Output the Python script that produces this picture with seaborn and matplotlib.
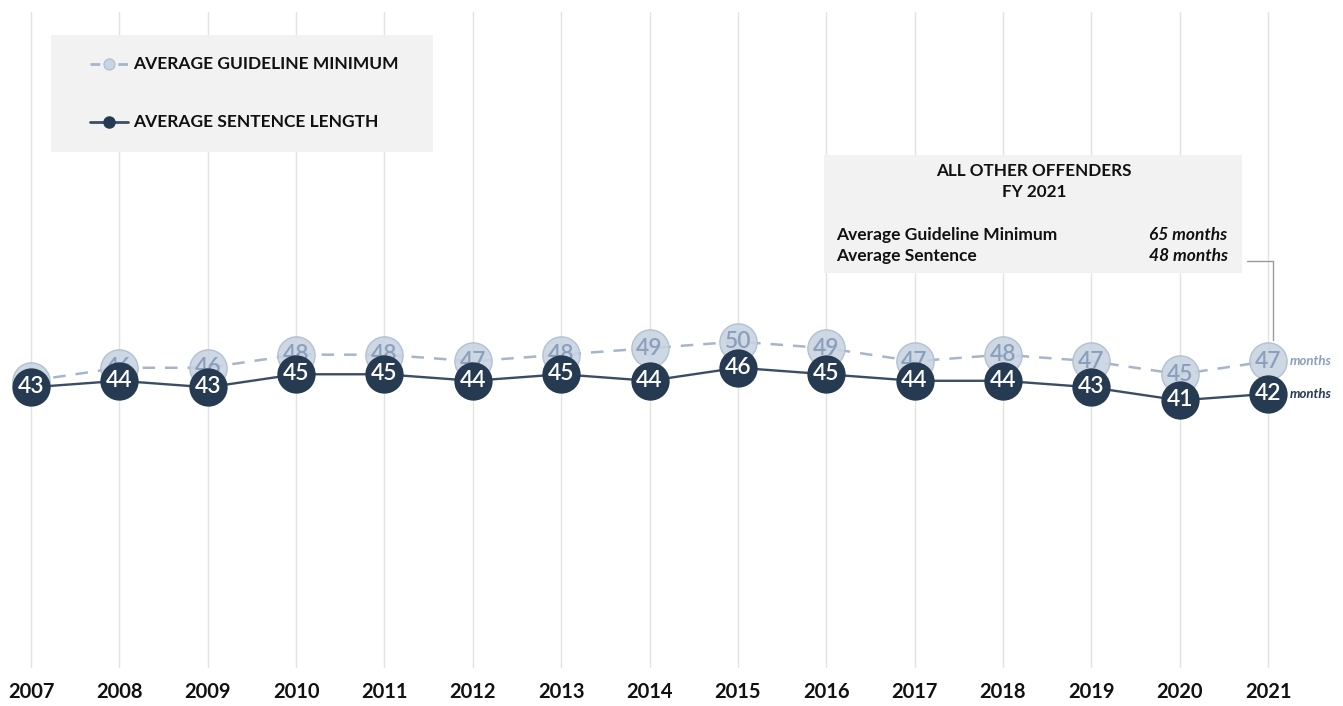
import matplotlib
matplotlib.use("Agg")
import matplotlib.pyplot as plt
from matplotlib.patches import Rectangle
from matplotlib.lines import Line2D
import seaborn as sns
import pandas as pd

years = [2007, 2008, 2009, 2010, 2011, 2012, 2013, 2014, 2015, 2016, 2017, 2018, 2019, 2020, 2021]
guideline_min = [44, 46, 46, 48, 48, 47, 48, 49, 50, 49, 47, 48, 47, 45, 47]
sentence_len = [43, 44, 43, 45, 45, 44, 45, 44, 46, 45, 44, 44, 43, 41, 42]
legend_labels = ["AVERAGE GUIDELINE MINIMUM", "AVERAGE SENTENCE LENGTH"]
box_title = ["ALL OTHER OFFENDERS", "FY 2021"]
box_rows = ["Average Guideline Minimum", "Average Sentence"]
box_vals = ["65 months", "48 months"]

df = pd.DataFrame({"year": years, "guide": guideline_min, "sent": sentence_len})

sns.set_theme(style="white")
plt.rcParams["font.family"] = ["Lato", "DejaVu Sans"]

DARK = "#263a52"
DARK_LINE = "#3b4d64"
LIGHT_FILL = "#c8d4e2"
LIGHT_EDGE = "#aebdd1"
LIGHT_TEXT = "#8b9fbb"
DASH = "#a7b5cb"
INK = "#111111"

W, H = 1343, 706
fig = plt.figure(figsize=(W / 100, H / 100), dpi=100)
ax = fig.add_axes([0, 1 - 668 / H, 1, (668 - 12) / H])

ax.set_xlim(2007 - 31 / 88.36, 2021 + 75 / 88.36)
ax.set_ylim(0, 100.5)

for y in years:
    ax.axvline(y, color="#e2e2e2", lw=1, zorder=0)

sns.lineplot(data=df, x="year", y="guide", ax=ax, color=DASH, lw=1.8, zorder=2)
ax.lines[-1].set_dashes([5, 4])
sns.scatterplot(data=df, x="year", y="guide", ax=ax, s=720, color=LIGHT_FILL,
                edgecolor=LIGHT_EDGE, linewidth=1, alpha=0.9, zorder=3)
for x, v in zip(years, guideline_min):
    ax.text(x, v, str(v), ha="center", va="center", fontsize=16.5,
            color=LIGHT_TEXT, fontweight="semibold", zorder=4)

sns.lineplot(data=df, x="year", y="sent", ax=ax, color=DARK_LINE, lw=1.7, zorder=5)
sns.scatterplot(data=df, x="year", y="sent", ax=ax, s=760, color=DARK,
                edgecolor=DARK, linewidth=0, zorder=6)
for x, v in zip(years, sentence_len):
    ax.text(x, v + 0.1, str(v), ha="center", va="center", fontsize=16.5,
            color="white", fontweight="semibold", zorder=7)

ax.annotate("months", (years[-1], guideline_min[-1]), xytext=(16, 0),
            textcoords="offset points", ha="left", va="center", fontsize=9.5,
            style="italic", fontweight="bold", color=LIGHT_TEXT)
ax.annotate("months", (years[-1], sentence_len[-1]), xytext=(16, 0),
            textcoords="offset points", ha="left", va="center", fontsize=9.5,
            style="italic", fontweight="bold", color=DARK)

ax.set_xticks(years)
ax.set_xticklabels([str(y) for y in years], fontsize=14.5, fontweight="bold", color=INK)
ax.tick_params(axis="x", length=0, pad=10)
ax.set_yticks([])
ax.set_xlabel("")
ax.set_ylabel("")
for s in ax.spines.values():
    s.set_visible(False)
ax.patch.set_alpha(0)


def fx(px):
    return px / W


def fy(py):
    return 1 - py / H


# Legend box
fig.patches.append(Rectangle((fx(51), fy(152)), fx(433) - fx(51), fy(35) - fy(152),
                             transform=fig.transFigure, facecolor="#f2f2f2",
                             edgecolor="none", zorder=0))
fig.add_artist(Line2D([fx(90), fx(128)], [fy(64), fy(64)], color=DASH, lw=2,
                      dashes=[3.5, 6.5], transform=fig.transFigure))
fig.add_artist(Line2D([fx(109)], [fy(64)], marker="o", markersize=8,
                      markerfacecolor=LIGHT_FILL, markeredgecolor=LIGHT_EDGE,
                      markeredgewidth=0.8, transform=fig.transFigure))
fig.add_artist(Line2D([fx(90), fx(128)], [fy(122), fy(122)], color=DARK_LINE, lw=2,
                      transform=fig.transFigure))
fig.add_artist(Line2D([fx(109)], [fy(122)], marker="o", markersize=8,
                      markerfacecolor=DARK, markeredgecolor=DARK,
                      transform=fig.transFigure))
fig.text(fx(133), fy(64), legend_labels[0], ha="left", va="center", fontsize=12.5,
         fontweight="bold", color=INK)
fig.text(fx(133), fy(122), legend_labels[1], ha="left", va="center", fontsize=12.5,
         fontweight="bold", color=INK)

# Info box
fig.patches.append(Rectangle((fx(824), fy(273)), fx(1242) - fx(824), fy(155) - fy(273),
                             transform=fig.transFigure, facecolor="#f2f2f2",
                             edgecolor="none", zorder=0))
fig.text(fx(1034), fy(171), box_title[0], ha="center", va="center", fontsize=12.3,
         fontweight="bold", color=INK)
fig.text(fx(1034), fy(192), box_title[1], ha="center", va="center", fontsize=12.3,
         fontweight="bold", color=INK)
fig.text(fx(836), fy(235), box_rows[0], ha="left", va="center", fontsize=12.5,
         fontweight="bold", color=INK)
fig.text(fx(836), fy(256), box_rows[1], ha="left", va="center", fontsize=12.5,
         fontweight="bold", color=INK)
fig.text(fx(1227), fy(235), box_vals[0], ha="right", va="center", fontsize=12.5,
         fontweight="bold", style="italic", color=INK)
fig.text(fx(1228), fy(256), box_vals[1], ha="right", va="center", fontsize=12.5,
         fontweight="bold", style="italic", color=INK)
fig.add_artist(Line2D([fx(1247), fx(1273), fx(1273)], [fy(261), fy(261), fy(340)],
                      color="#9a9a9a", lw=1, transform=fig.transFigure))

fig.savefig("out.png", dpi=100)
